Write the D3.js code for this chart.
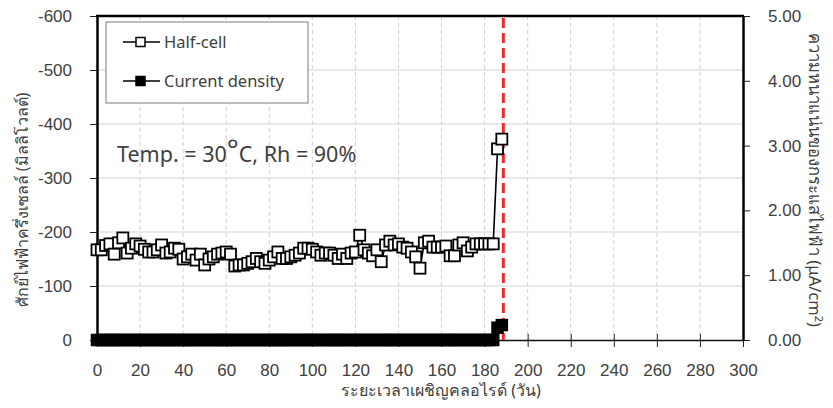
<!DOCTYPE html>
<html>
<head>
<meta charset="utf-8">
<script src="https://cdn.jsdelivr.net/npm/d3@7"></script>
<style>
  body { margin: 0; background: #fff; }
  svg { display: block; font-family: "Noto Sans", "Open Sans", sans-serif; }
  .tick text { fill: #404040; }
</style>
</head>
<body>
<div id="chart"></div>
<script>
// days of chloride exposure
const days = [0, 2, 4, 6, 8, 10, 12, 14, 16, 18, 20, 22, 24, 26, 28, 30, 32, 34, 36, 38,
  40, 42, 44, 46, 48, 50, 52, 54, 56, 58, 60, 62, 64, 66, 68, 70, 72, 74, 76, 78,
  80, 82, 84, 86, 88, 90, 92, 94, 96, 98, 100, 102, 104, 106, 108, 110, 112, 114, 116, 118,
  120, 122, 124, 126, 128, 130, 132, 134, 136, 138, 140, 142, 144, 146, 148, 150, 152, 154, 156, 158,
  160, 162, 164, 166, 168, 170, 172, 174, 176, 178, 180, 182, 184, 186, 188];

// half-cell potential (mV)
const halfCell = [-167, -167, -175, -178, -159, -180, -189, -161, -170, -178, -174, -168, -163, -163, -167, -176, -161, -163, -170, -168,
  -150, -154, -159, -148, -159, -139, -150, -154, -159, -161, -163, -159, -137, -139, -139, -142, -145, -151, -145, -142,
  -148, -154, -163, -151, -151, -154, -157, -161, -170, -170, -168, -163, -157, -161, -161, -157, -151, -159, -151, -161,
  -163, -194, -167, -161, -156, -167, -145, -176, -183, -176, -178, -172, -170, -163, -154, -133, -180, -183, -172, -172,
  -172, -174, -156, -156, -176, -180, -165, -172, -178, -178, -178, -178, -178, -354, -372];

// current density (uA/cm2)
const currentDensity = [0, 0, 0, 0, 0, 0, 0, 0, 0, 0, 0, 0, 0, 0, 0, 0, 0, 0, 0, 0,
  0, 0, 0, 0, 0, 0, 0, 0, 0, 0, 0, 0, 0, 0, 0, 0, 0, 0, 0, 0,
  0, 0, 0, 0, 0, 0, 0, 0, 0, 0, 0, 0, 0, 0, 0, 0, 0, 0, 0, 0,
  0, 0, 0, 0, 0, 0, 0, 0, 0, 0, 0, 0, 0, 0, 0, 0, 0, 0, 0, 0,
  0, 0, 0, 0, 0, 0, 0, 0, 0, 0, 0, 0, 0, 0.19, 0.23];

const xTicks = [0, 20, 40, 60, 80, 100, 120, 140, 160, 180, 200, 220, 240, 260, 280, 300];
const yLeftTicks = [0, -100, -200, -300, -400, -500, -600];
const yRightTicks = [0, 1, 2, 3, 4, 5];
const corrosionDay = 188.7;

const W = 833, H = 408;
const pLeft = 97, pRight = 743, pTop = 16, pBottom = 340;
const mk = 11; // marker size

const svg = d3.select("#chart").append("svg").attr("width", W).attr("height", H);

const x = d3.scaleLinear().domain([0, 300]).range([pLeft, pRight]);
const yL = d3.scaleLinear().domain([0, -600]).range([pBottom, pTop]);
const yR = d3.scaleLinear().domain([0, 5]).range([pBottom, pTop]);

// grid
svg.append("g")
  .selectAll("line")
  .data(xTicks.slice(1, -1))
  .enter().append("line")
  .attr("x1", d => x(d)).attr("x2", d => x(d))
  .attr("y1", pTop).attr("y2", pBottom)
  .attr("stroke", "#cfcfcf").attr("stroke-dasharray", "4,3");

svg.append("g")
  .selectAll("line")
  .data(yLeftTicks.slice(1, -1))
  .enter().append("line")
  .attr("x1", pLeft).attr("x2", pRight)
  .attr("y1", d => yL(d)).attr("y2", d => yL(d))
  .attr("stroke", "#d4d4d4").attr("stroke-width", 1.2);

// axes
const xAxis = svg.append("g")
  .attr("transform", `translate(0,${pBottom})`)
  .call(d3.axisBottom(x).tickValues(xTicks).tickSize(7).tickPadding(17).tickSizeOuter(0));
xAxis.selectAll(".tick line").attr("y1", -6).attr("stroke", "#222");
xAxis.select(".domain").attr("stroke", "#111").attr("stroke-width", 1.3);
xAxis.selectAll("text").style("font-size", "17px");

const yAxisL = svg.append("g")
  .attr("transform", `translate(${pLeft},0)`)
  .call(d3.axisLeft(yL).tickValues(yLeftTicks).tickFormat(d => String(d)).tickSize(7).tickPadding(18).tickSizeOuter(0));
yAxisL.select(".domain").attr("stroke", "#000").attr("stroke-width", 2.5);
yAxisL.selectAll(".tick line").attr("stroke", "#222");
yAxisL.selectAll("text").style("font-size", "17px");

const yAxisR = svg.append("g")
  .attr("transform", `translate(${pRight},0)`)
  .call(d3.axisRight(yR).tickValues(yRightTicks).tickFormat(d3.format(".2f")).tickSize(7).tickPadding(18).tickSizeOuter(0));
yAxisR.select(".domain").attr("stroke", "#000").attr("stroke-width", 2.5);
yAxisR.selectAll(".tick line").attr("stroke", "#222");
yAxisR.selectAll("text").style("font-size", "17px");

svg.append("line")
  .attr("x1", pLeft - 1).attr("x2", pRight + 1)
  .attr("y1", pTop).attr("y2", pTop)
  .attr("stroke", "#000").attr("stroke-width", 2.5);

// axis titles
svg.append("text")
  .attr("transform", `translate(28,200) rotate(-90)`)
  .attr("text-anchor", "middle")
  .style("font-size", "16px").attr("fill", "#404040")
  .text("ศักย์ไฟฟ้าครึ่งเซลล์ (มิลลิโวลต์)");

svg.append("text")
  .attr("transform", `translate(809,180) rotate(90)`)
  .attr("text-anchor", "middle")
  .style("font-size", "16.5px").attr("fill", "#404040")
  .html("ความหนาแน่นของกระแสไฟฟ้า (μA/cm<tspan dy='-6' font-size='11px'>2</tspan><tspan dy='6'>)</tspan>");

svg.append("text")
  .attr("x", 441).attr("y", 396)
  .attr("text-anchor", "middle")
  .style("font-size", "16px").attr("fill", "#404040")
  .text("ระยะเวลาเผชิญคลอไรด์ (วัน)");

// red dashed line
svg.append("line")
  .attr("x1", x(corrosionDay)).attr("x2", x(corrosionDay))
  .attr("y1", pTop + 2).attr("y2", pBottom)
  .attr("stroke", "#ee2a2a").attr("stroke-width", 3).attr("stroke-dasharray", "10,5");

// series
const hcData = days.map((d, i) => ({ day: d, v: halfCell[i] }));
const cdData = days.map((d, i) => ({ day: d, v: currentDensity[i] }));

svg.append("path")
  .datum(cdData)
  .attr("fill", "none").attr("stroke", "#000").attr("stroke-width", 1.5)
  .attr("d", d3.line().x(d => x(d.day)).y(d => yR(d.v)));

svg.append("g")
  .selectAll("rect")
  .data(cdData)
  .enter().append("rect")
  .attr("x", d => x(d.day) - mk / 2).attr("y", d => yR(d.v) - mk / 2)
  .attr("width", mk).attr("height", mk)
  .attr("fill", "#000").attr("stroke", "#000").attr("stroke-width", 1.5);

svg.append("path")
  .datum(hcData)
  .attr("fill", "none").attr("stroke", "#000").attr("stroke-width", 1.6)
  .attr("d", d3.line().x(d => x(d.day)).y(d => yL(d.v)));

svg.append("g")
  .selectAll("rect")
  .data(hcData)
  .enter().append("rect")
  .attr("x", d => x(d.day) - mk / 2).attr("y", d => yL(d.v) - mk / 2)
  .attr("width", mk).attr("height", mk)
  .attr("fill", "#fff").attr("stroke", "#000").attr("stroke-width", 1.8);

// legend
const legend = svg.append("g");
legend.append("rect")
  .attr("x", 106).attr("y", 22).attr("width", 202).attr("height", 81)
  .attr("fill", "#fff").attr("stroke", "#7a7a7a");

[["Half-cell", "#fff", 42], ["Current density", "#000", 81]].forEach(([name, fill, ly]) => {
  legend.append("line")
    .attr("x1", 123).attr("x2", 160).attr("y1", ly).attr("y2", ly)
    .attr("stroke", "#000").attr("stroke-width", 1.5);
  legend.append("rect")
    .attr("x", 136).attr("y", ly - 4.5).attr("width", 9).attr("height", 9)
    .attr("fill", fill).attr("stroke", "#000").attr("stroke-width", 1.5);
  legend.append("text")
    .attr("x", 164).attr("y", ly + 6)
    .style("font-size", "16.5px").attr("fill", "#404040")
    .text(name);
});

// condition note
svg.append("text")
  .attr("x", 117).attr("y", 162)
  .style("font-size", "21.5px").attr("fill", "#404040")
  .html("Temp. = 30<tspan font-size='28px' dy='-3'>°</tspan><tspan dy='3'>C, Rh = 90%</tspan>");
</script>
</body>
</html>
